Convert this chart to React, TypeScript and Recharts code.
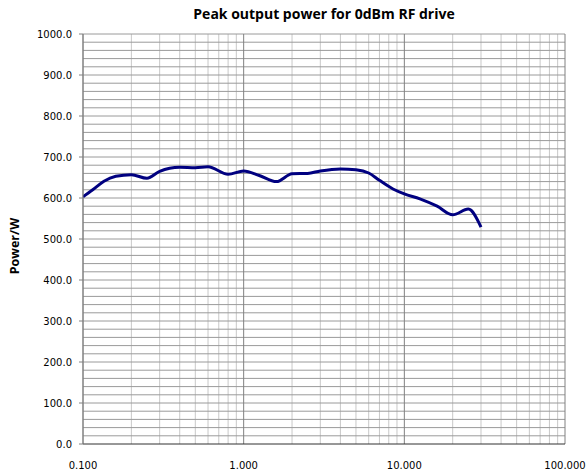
import { LineChart, Line, XAxis, YAxis, ReferenceLine } from "recharts";

// frequency (MHz, log axis) vs peak output power (W)
const freq = [0.1, 0.115, 0.135, 0.16, 0.2, 0.25, 0.3, 0.4, 0.5, 0.6, 0.8, 1, 1.25, 1.6, 2, 2.5, 3, 4, 5, 6, 7, 8.5, 10, 12.5, 16, 20, 25, 30];
const power = [603, 620, 641, 653, 657, 648, 665, 675, 674, 676, 658, 666, 655, 640, 659, 660, 666, 671, 669, 661, 643, 622, 610, 598, 580, 559, 573, 529];

const xTicks = [0.1, 1, 10, 100];
const yTicks = [0, 100, 200, 300, 400, 500, 600, 700, 800, 900, 1000];

const data = freq.map((f, i) => ({ f, p: power[i] }));

// gridlines: minor decades 2..9, horizontal every 20
const minorX: number[] = [];
[0.1, 1, 10].forEach((d) => {
  for (let k = 2; k <= 9; k++) minorX.push(+(d * k).toFixed(3));
});
const hGrid: number[] = [];
for (let v = 20; v <= 1000; v += 20) hGrid.push(v);

const W = 587;
const H = 473;

export default function App() {
  return (
    <div style={{ position: "absolute", left: 0, top: 0, width: W, height: H, background: "#fff" }}>
      <div
        style={{
          position: "absolute", left: 83, width: 482, top: 4, textAlign: "center",
          fontFamily: "'Open Sans', sans-serif", fontWeight: 700, fontSize: 14, color: "#000",
        }}
      >
        Peak output power for 0dBm RF drive
      </div>
      <div
        style={{
          position: "absolute", left: 14, top: 246, transform: "translate(-50%, -50%) rotate(-90deg)",
          fontFamily: "'Open Sans', sans-serif", fontWeight: 700, fontSize: 12.5, whiteSpace: "nowrap",
        }}
      >
        Power/W
      </div>
      <LineChart width={W} height={H} data={data} margin={{ top: 34, right: 22, left: 0, bottom: 0 }}>
        {minorX.map((v) => (
          <ReferenceLine key={"mx" + v} x={v} stroke="#c8c8c8" strokeWidth={1} />
        ))}
        {hGrid.map((v) => (
          <ReferenceLine key={"h" + v} y={v} stroke="#9a9a9a" strokeWidth={1} />
        ))}
        {xTicks.map((v) => (
          <ReferenceLine key={"Mx" + v} x={v} stroke="#808080" strokeWidth={1} />
        ))}
        <XAxis
          dataKey="f"
          type="number"
          scale="log"
          domain={[0.1, 100]}
          ticks={xTicks}
          allowDataOverflow
          height={29}
          tickLine={false}
          tickMargin={12}
          axisLine={{ stroke: "#303030" }}
          tick={{ fill: "#000", fontSize: 10, fontFamily: "'DejaVu Sans', sans-serif" }}
          tickFormatter={(v: number) => v.toFixed(3)}
        />
        <YAxis
          type="number"
          domain={[0, 1000]}
          ticks={yTicks}
          width={83}
          tickSize={4}
          tickMargin={7}
          axisLine={{ stroke: "#808080" }}
          tickLine={{ stroke: "#808080" }}
          tick={{ fill: "#000", fontSize: 10, fontFamily: "'DejaVu Sans', sans-serif" }}
          tickFormatter={(v: number) => v.toFixed(1)}
        />
        <Line
          dataKey="p"
          type="monotone"
          stroke="#000080"
          strokeWidth={3}
          dot={false}
          isAnimationActive={false}
        />
      </LineChart>
    </div>
  );
}
